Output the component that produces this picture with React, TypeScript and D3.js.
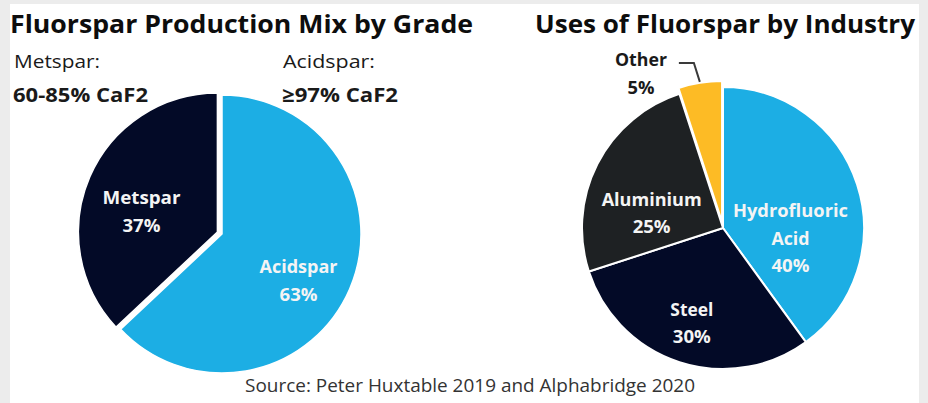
import React from "react";
import * as d3 from "d3";

const gradeLabels = ["Acidspar", "Metspar"];
const gradeValues = [63, 37];
const gradeColors = ["#1caee4", "#030a27"];

const useLabels = [["Hydrofluoric", "Acid"], ["Steel"], ["Aluminium"], ["Other"]];
const useValues = [40, 30, 25, 5];
const useColors = ["#1caee4", "#030a27", "#1e2123", "#fdbb25"];

const W = 928;
const H = 403;

const FONT = "'Open Sans', 'DejaVu Sans', sans-serif";

function T(props: any) {
  const { w, children, ...rest } = props;
  return (
    <text fontFamily={FONT} textLength={w} lengthAdjust="spacingAndGlyphs" {...rest}>
      {children}
    </text>
  );
}

export default function App() {
  const pie = d3.pie<number>().sort(null).value((d) => d).startAngle(0).endAngle(2 * Math.PI);

  // Left pie
  const c1 = { x: 222, y: 234 };
  const r1 = 139;
  const arc1 = d3.arc<d3.PieArcDatum<number>>().innerRadius(0).outerRadius(r1);
  const arcs1 = pie(gradeValues);
  const explode1 = [0, 5];
  const nudge1 = [[0, 14], [-4, 11]];
  const labelArc1 = d3.arc<d3.PieArcDatum<number>>().innerRadius(r1 * 0.6).outerRadius(r1 * 0.6);

  // Right pie
  const c2 = { x: 723, y: 228 };
  const r2 = 141;
  const arc2 = d3.arc<d3.PieArcDatum<number>>().innerRadius(0).outerRadius(r2);
  const arcs2 = pie(useValues);
  const explode2 = [0, 0, 0, 6];
  const nudge2 = [[-13, 37], [-5, 15], [4, 24], [0, 0]];
  const labelArc2 = d3.arc<d3.PieArcDatum<number>>().innerRadius(r2 * 0.6).outerRadius(r2 * 0.6);

  const mid = (a: d3.PieArcDatum<number>) => (a.startAngle + a.endAngle) / 2;
  const offs = (a: d3.PieArcDatum<number>, e: number) => {
    const m = mid(a);
    return [Math.sin(m) * e, -Math.cos(m) * e];
  };

  const labelW1: Record<string, number> = { Acidspar: 78, Metspar: 78 };
  const labelW2: Record<string, number> = { Hydrofluoric: 115, Acid: 38, Steel: 43, Aluminium: 100, Other: 52 };

  const renderLabel = (lines: string[], pct: string, cx: number, cy: number, wmap: Record<string, number>, fill: string) => {
    const all = [...lines, pct];
    const lh = 27.5;
    const n = all.length;
    const firstBaseline = cy - ((n - 1) * lh) / 2 + 6;
    return all.map((s, i) => (
      <T
        key={i}
        x={cx}
        y={firstBaseline + i * lh}
        textAnchor="middle"
        fontSize={18}
        fontWeight="bold"
        fill={fill}
        w={wmap[s] ?? (s.length === 2 ? 27 : 38)}
      >
        {s}
      </T>
    ));
  };

  // Other leader line
  const other = arcs2[3];
  const om = mid(other);
  const p0 = [c2.x + Math.sin(om) * (r2 + explode2[3] + 1), c2.y - Math.cos(om) * (r2 + explode2[3] + 1)];
  const p1 = [c2.x + Math.sin(om) * (r2 + 26) - 3, c2.y - Math.cos(om) * (r2 + 26)];
  const p2 = [p1[0] - 15, p1[1]];

  return (
    <svg width={W} height={H} style={{ position: "absolute", left: 0, top: 0 }}>
      <rect x={0} y={0} width={W} height={H} fill="#ececec" />
      <rect x={10} y={4} width={909} height={H - 4} fill="#ffffff" />

      {/* Titles */}
      <T x={10} y={33} fontSize={25} fontWeight="bold" fill="#0d0d0d" w={463}>
        Fluorspar Production Mix by Grade
      </T>
      <T x={535} y={33} fontSize={25} fontWeight="bold" fill="#0d0d0d" w={380}>
        Uses of Fluorspar by Industry
      </T>

      <T x={14} y={68} fontSize={19} fill="#1a1a1a" w={86}>Metspar:</T>
      <T x={13} y={102} fontSize={20} fontWeight="bold" fill="#1a1a1a" w={135}>60-85% CaF2</T>
      <T x={283} y={68} fontSize={19} fill="#1a1a1a" w={92}>Acidspar:</T>
      <T x={282} y={102} fontSize={20} fontWeight="bold" fill="#1a1a1a" w={116}>≥97% CaF2</T>

      {/* Left pie */}
      <g transform={`translate(${c1.x},${c1.y})`}>
        {arcs1.map((a, i) => {
          const [dx, dy] = offs(a, explode1[i]);
          return (
            <path
              key={i}
              d={arc1(a) || ""}
              transform={`translate(${dx},${dy})`}
              fill={gradeColors[i]}
              stroke="#ffffff"
              strokeWidth={1.5}
              strokeLinejoin="round"
            />
          );
        })}
        {arcs1.map((a, i) => {
          const [lx, ly] = labelArc1.centroid(a);
          return (
            <g key={"l" + i}>
              {renderLabel([gradeLabels[i]], `${gradeValues[i]}%`, lx + nudge1[i][0], ly + nudge1[i][1], labelW1, "#f4f4f4")}
            </g>
          );
        })}
      </g>

      {/* Right pie */}
      <g transform={`translate(${c2.x},${c2.y})`}>
        {arcs2.map((a, i) => {
          const [dx, dy] = offs(a, explode2[i]);
          return (
            <path
              key={i}
              d={arc2(a) || ""}
              transform={`translate(${dx},${dy})`}
              fill={useColors[i]}
              stroke="#ffffff"
              strokeWidth={2}
              strokeLinejoin="round"
            />
          );
        })}
        {arcs2.slice(0, 3).map((a, i) => {
          const [lx, ly] = labelArc2.centroid(a);
          return (
            <g key={"l" + i}>
              {renderLabel(useLabels[i], `${useValues[i]}%`, lx + nudge2[i][0], ly + nudge2[i][1], labelW2, "#f4f4f4")}
            </g>
          );
        })}
      </g>

      {/* Other leader + label */}
      <polyline
        points={`${p0[0]},${p0[1]} ${p1[0]},${p1[1]} ${p2[0]},${p2[1]}`}
        fill="none"
        stroke="#3a3a3a"
        strokeWidth={2}
      />
      {renderLabel(useLabels[3], `${useValues[3]}%`, 641, 74, labelW2, "#1a1a1a")}

      {/* Source */}
      <T x={245} y={392} fontSize={19} fill="#333333" w={450}>
        Source: Peter Huxtable 2019 and Alphabridge 2020
      </T>
    </svg>
  );
}
